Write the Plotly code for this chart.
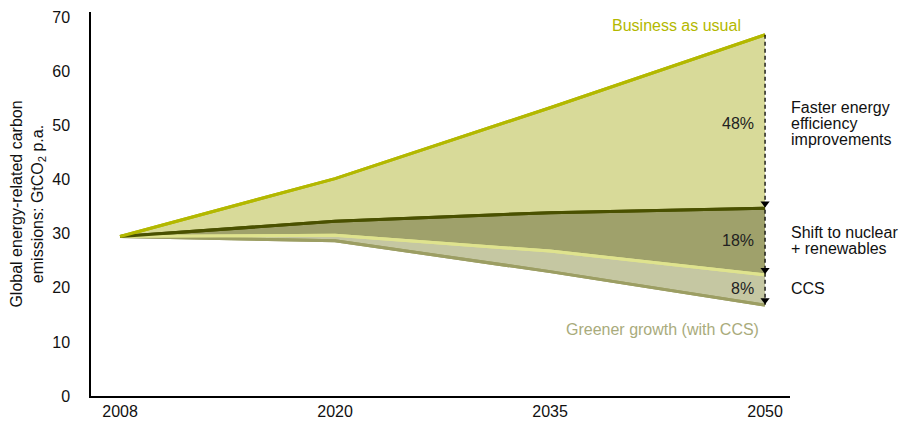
import plotly.graph_objects as go

years = ["2008", "2020", "2035", "2050"]
bau = [29.5, 40.2, 53.3, 66.8]
efficiency = [29.5, 32.3, 33.9, 34.7]
nuclear = [29.5, 29.7, 26.8, 22.4]
greener = [29.5, 28.7, 23.0, 16.8]
y_ticks = [0, 10, 20, 30, 40, 50, 60, 70]
shares = ["48%", "18%", "8%"]
lever_labels = [["Faster energy", "efficiency", "improvements"],
                ["Shift to nuclear", "+ renewables"],
                ["CCS"]]

FONT = "Liberation Sans, Arial, Helvetica, sans-serif"
fig = go.Figure()

fig.add_trace(go.Scatter(x=years, y=greener, mode="lines",
                         line=dict(color="#9c9e63", width=3), hoverinfo="skip"))
fig.add_trace(go.Scatter(x=years, y=nuclear, mode="lines", fill="tonexty",
                         fillcolor="#c5c7a2", line=dict(color="#dfe38e", width=3), hoverinfo="skip"))
fig.add_trace(go.Scatter(x=years, y=efficiency, mode="lines", fill="tonexty",
                         fillcolor="#9fa16b", line=dict(color="#4a5100", width=3), hoverinfo="skip"))
fig.add_trace(go.Scatter(x=years, y=bau, mode="lines", fill="tonexty",
                         fillcolor="#d8da99", line=dict(color="#b3b800", width=3), hoverinfo="skip"))
# redraw lines on top
for ys, c in [(greener, "#9c9e63"), (nuclear, "#dfe38e"), (efficiency, "#4a5100"), (bau, "#b3b800")]:
    fig.add_trace(go.Scatter(x=years, y=ys, mode="lines", line=dict(color=c, width=3), hoverinfo="skip"))

# dashed arrow at 2050
last = years[-1]
fig.add_trace(go.Scatter(x=[last, last], y=[bau[-1], greener[-1]], mode="lines",
                         line=dict(color="black", width=1.3, dash="4px,3px"), hoverinfo="skip"))
fig.add_trace(go.Scatter(x=[last] * 3, y=[efficiency[-1] + 0.9, nuclear[-1] + 0.9, greener[-1] + 0.9],
                         mode="markers", marker=dict(symbol="triangle-down", size=8, color="black"),
                         hoverinfo="skip"))

XI = len(years) - 1
label_y = [50.4, 28.7, 19.8]
for s, lines, yy in zip(shares, lever_labels, label_y):
    fig.add_annotation(x=XI, y=yy, text=s, showarrow=False, xanchor="right", xshift=-9,
                       font=dict(family=FONT, size=16, color="#222"))
    n = len(lines)
    for i, ln in enumerate(lines):
        fig.add_annotation(x=XI, y=yy, text=ln, showarrow=False, xanchor="left", xshift=24,
                           yshift=-(i - (n - 1) / 2) * 16,
                           align="left", font=dict(family=FONT, size=16, color="#111"))

fig.add_annotation(x=XI, y=68.5, text="Business as usual", showarrow=False, xanchor="right",
                   xshift=-22, font=dict(family=FONT, size=16, color="#b3b800"))
fig.add_annotation(x=XI, y=12.3, text="Greener growth (with CCS)", showarrow=False, xanchor="right",
                   xshift=-4, font=dict(family=FONT, size=16, color="#a9ab7c"))

# page body has an 8px margin; size the figure so it fills the window
fig.update_layout(
    width=901, height=416,
    margin=dict(l=83, r=119, t=4, b=28),
    plot_bgcolor="white", paper_bgcolor="white",
    showlegend=False,
    font=dict(family=FONT, size=16, color="#111"),
    xaxis=dict(type="category", range=[-0.135, 3.116], showgrid=False, zeroline=False,
               showline=True, linecolor="black", linewidth=1.5, ticks="", automargin=False,
               tickfont=dict(size=16)),
    yaxis=dict(range=[0, 71], tickvals=y_ticks, showgrid=False, zeroline=False,
               showline=True, linecolor="black", linewidth=1.5, ticks="", automargin=False,
               tickfont=dict(size=16), ticklabelstandoff=16,
               title=dict(text="Global energy-related carbon<br>emissions: GtCO<sub>2</sub> p.a.",
                          font=dict(size=16), standoff=8)),
)

fig.write_html("out.html")
